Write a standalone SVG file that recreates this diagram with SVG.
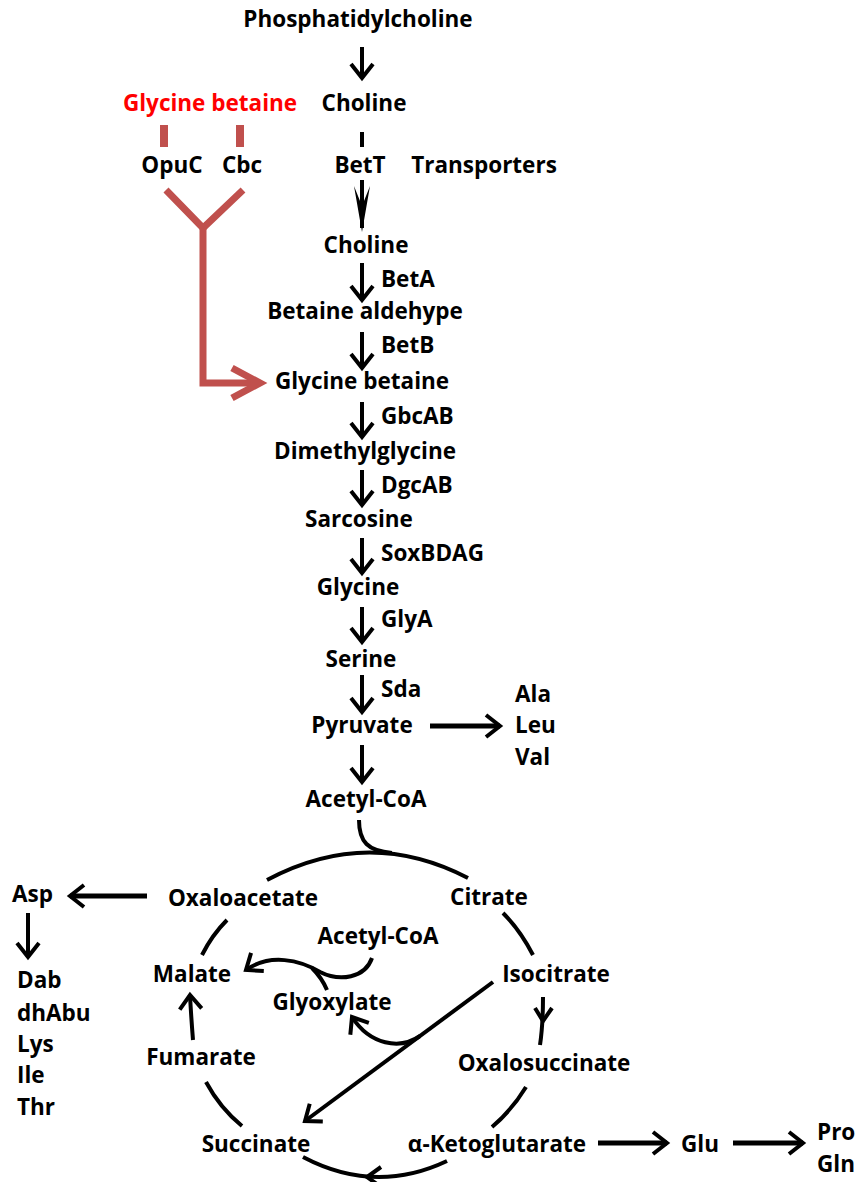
<svg xmlns="http://www.w3.org/2000/svg" width="856" height="1182" viewBox="0 0 856 1182">
<style>
.t{font-family:"Open Sans","Liberation Sans",sans-serif;font-weight:bold;font-size:22.5px;fill:#000}
.m{text-anchor:middle}
.red{fill:#FF0000}
.ln{fill:none;stroke:#000;stroke-width:4}
.ln5{fill:none;stroke:#000;stroke-width:5}
.rl{fill:none;stroke:#C0504D;stroke-width:7}
</style>
<defs>
<marker id="ah" markerUnits="userSpaceOnUse" viewBox="-20 -15 30 30" refX="0" refY="0" markerWidth="30" markerHeight="30" orient="auto" overflow="visible">
<path d="M-14,-11 L0,0 L-14,11" fill="none" stroke="#000" stroke-width="4"/>
</marker>
<marker id="ahr" markerUnits="userSpaceOnUse" viewBox="-40 -20 50 40" refX="0" refY="0" markerWidth="50" markerHeight="40" orient="auto" overflow="visible">
<path d="M-28,-15 L0,0 L-28,15" fill="none" stroke="#C0504D" stroke-width="7"/>
</marker>
</defs>
<g id="connectors">
<path class="ln" d="M362,47 V78" marker-end="url(#ah)"/>
<path class="ln" d="M362,132 V147"/>
<path class="ln" d="M362,180 V228"/>
<path d="M354,186 L362,232 L370,186 L362,206 Z" fill="#000"/>
<path class="ln" d="M362,263 V300" marker-end="url(#ah)"/>
<path class="ln" d="M362,332 V368" marker-end="url(#ah)"/>
<path class="ln" d="M362,402 V437" marker-end="url(#ah)"/>
<path class="ln" d="M362,470 V505" marker-end="url(#ah)"/>
<path class="ln" d="M362,538 V573" marker-end="url(#ah)"/>
<path class="ln" d="M362,607 V642" marker-end="url(#ah)"/>
<path class="ln" d="M362,675 V712" marker-end="url(#ah)"/>
<path class="ln" d="M362,745 V782" marker-end="url(#ah)"/>
<path class="ln5" d="M430,726 H500" marker-end="url(#ah)"/>
<rect x="160" y="125" width="8" height="22" fill="#C0504D"/>
<rect x="236" y="125" width="8" height="22" fill="#C0504D"/>
<path class="rl" d="M166,190 L203,228 L243,190"/>
<path class="rl" d="M203,228 V383 H260" marker-end="url(#ahr)"/>
<path class="ln" d="M267,880 Q368,826 468,878"/>
<path class="ln" d="M359,820 C359,842 368,851 392,853"/>
<path class="ln" d="M227,920 Q212,935 202,955"/>
<path class="ln" d="M503,913 Q520,930 533,955"/>
<path class="ln" d="M543,997 Q543,1025 540,1045"/>
<path class="ln" d="M535,1008 L543,1021 L552,1008"/>
<path class="ln" d="M526,1087 Q512,1110 492,1127"/>
<path class="ln" d="M447,1161 Q375,1195 303,1157"/>
<path class="ln" d="M381,1167 L367,1177 L381,1187"/>
<path class="ln" d="M206,1082 Q220,1108 242,1126"/>
<path class="ln" d="M193,1040 Q191,1015 190,995" marker-end="url(#ah)"/>
<path class="ln" d="M493,982 L305,1121" marker-end="url(#ah)"/>
<path class="ln" d="M420,1036 C400,1050 370,1045 352,1017" marker-end="url(#ah)"/>
<path class="ln" d="M372,958 C365,978 340,982 320,972 C300,960 270,953 246,970" marker-end="url(#ah)"/>
<path class="ln" d="M327,990 Q322,978 312,968"/>
<path class="ln5" d="M147,896 H70" marker-end="url(#ah)"/>
<path class="ln" d="M28,913 V957" marker-end="url(#ah)"/>
<path class="ln5" d="M598,1143 H667" marker-end="url(#ah)"/>
<path class="ln5" d="M733,1143 H803" marker-end="url(#ah)"/>
</g>
<g id="n-phosphatidylcholine"><text class="t m" x="358" y="27">Phosphatidylcholine</text></g>
<g id="n-glycine-betaine-ext"><text class="t m red" x="210" y="111">Glycine betaine</text></g>
<g id="n-choline-ext"><text class="t m" x="364" y="111">Choline</text></g>
<g id="n-opuc"><text class="t m" x="172" y="173">OpuC</text></g>
<g id="n-cbc"><text class="t m" x="242" y="173">Cbc</text></g>
<g id="n-bett"><text class="t m" x="360" y="173">BetT</text></g>
<g id="n-transporters"><text class="t m" x="484" y="173">Transporters</text></g>
<g id="n-choline"><text class="t m" x="366" y="253">Choline</text></g>
<g id="e-beta"><text class="t" x="381" y="287">BetA</text></g>
<g id="n-betaine-aldehyde"><text class="t m" x="365" y="319">Betaine aldehype</text></g>
<g id="e-betb"><text class="t" x="381" y="353">BetB</text></g>
<g id="n-glycine-betaine"><text class="t m" x="362" y="389">Glycine betaine</text></g>
<g id="e-gbcab"><text class="t" x="381" y="424">GbcAB</text></g>
<g id="n-dimethylglycine"><text class="t m" x="365" y="459">Dimethylglycine</text></g>
<g id="e-dgcab"><text class="t" x="381" y="493">DgcAB</text></g>
<g id="n-sarcosine"><text class="t m" x="359" y="527">Sarcosine</text></g>
<g id="e-soxbdag"><text class="t" x="381" y="561">SoxBDAG</text></g>
<g id="n-glycine"><text class="t m" x="358" y="595">Glycine</text></g>
<g id="e-glya"><text class="t" x="381" y="627">GlyA</text></g>
<g id="n-serine"><text class="t m" x="361" y="667">Serine</text></g>
<g id="e-sda"><text class="t" x="381" y="697">Sda</text></g>
<g id="n-pyruvate"><text class="t m" x="362" y="733">Pyruvate</text></g>
<g id="n-ala-leu-val"><text class="t" x="515" y="702">Ala</text><text class="t" x="515" y="733">Leu</text><text class="t" x="515" y="765">Val</text></g>
<g id="n-acetylcoa"><text class="t m" x="366" y="807">Acetyl-CoA</text></g>
<g id="n-asp"><text class="t" x="12" y="902">Asp</text></g>
<g id="n-dab-list"><text class="t" x="17" y="988">Dab</text><text class="t" x="17" y="1021">dhAbu</text><text class="t" x="17" y="1052">Lys</text><text class="t" x="17" y="1083">Ile</text><text class="t" x="17" y="1115">Thr</text></g>
<g id="n-oxaloacetate"><text class="t m" x="243" y="906">Oxaloacetate</text></g>
<g id="n-citrate"><text class="t m" x="489" y="905">Citrate</text></g>
<g id="n-acetylcoa2"><text class="t m" x="378" y="944">Acetyl-CoA</text></g>
<g id="n-malate"><text class="t m" x="192" y="982">Malate</text></g>
<g id="n-isocitrate"><text class="t m" x="556" y="982">Isocitrate</text></g>
<g id="n-glyoxylate"><text class="t m" x="332" y="1010">Glyoxylate</text></g>
<g id="n-fumarate"><text class="t m" x="201" y="1065">Fumarate</text></g>
<g id="n-oxalosuccinate"><text class="t m" x="544" y="1071">Oxalosuccinate</text></g>
<g id="n-succinate"><text class="t m" x="256" y="1152">Succinate</text></g>
<g id="n-akg"><text class="t m" x="497" y="1152">α-Ketoglutarate</text></g>
<g id="n-glu"><text class="t" x="681" y="1152">Glu</text></g>
<g id="n-pro-gln"><text class="t" x="817" y="1140">Pro</text><text class="t" x="817" y="1172">Gln</text></g>
</svg>
